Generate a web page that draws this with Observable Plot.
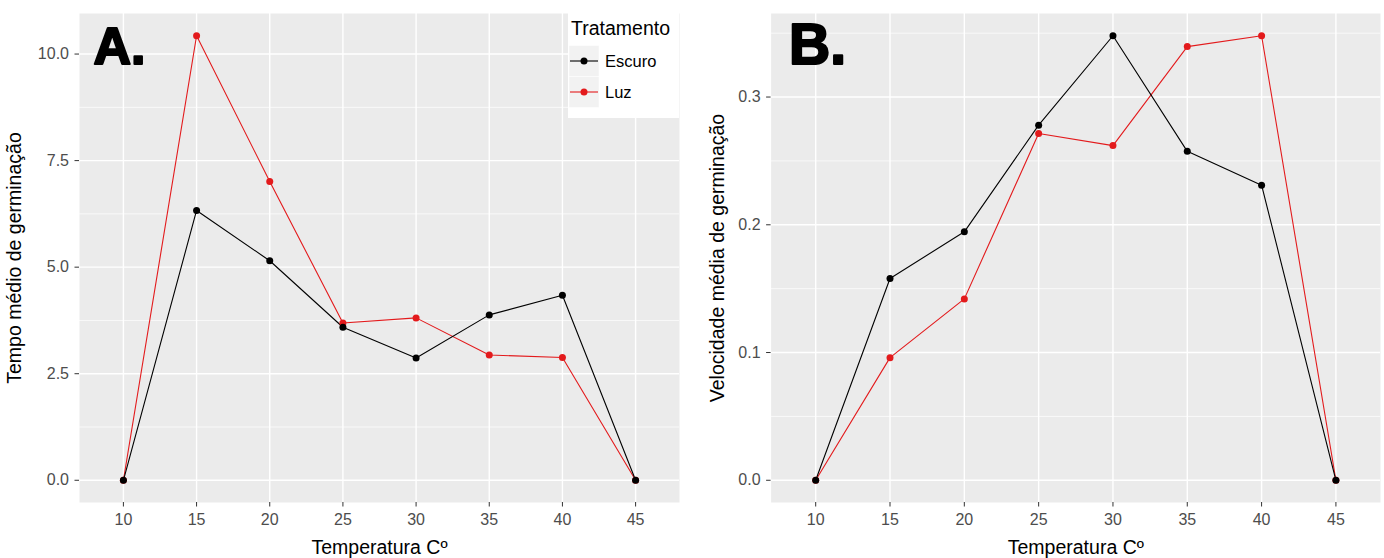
<!DOCTYPE html>
<html>
<head>
<meta charset="utf-8">
<script src="https://cdn.jsdelivr.net/npm/d3@7"></script>
<script src="https://cdn.jsdelivr.net/npm/@observablehq/plot@0.6"></script>
<style>
  html, body { margin: 0; padding: 0; background: #fff; }
  #wrap { position: relative; width: 1384px; height: 558px; font-family: "Liberation Sans", Arial, sans-serif; }
  #chartA { position: absolute; left: 0; top: 0; }
  #chartB { position: absolute; left: 690px; top: 0; }
  #legend { position: absolute; left: 568px; top: 13px; }
  #wrap g[aria-label$="tick label"], #wrap g[aria-label$="tick label"] text { fill: #4D4D4D; font-size: 16px; }
  #wrap g[aria-label$="axis tick"] { stroke: #333333; }
  #wrap g[aria-label$="axis label"], #wrap g[aria-label$="axis label"] text { fill: #000; font-size: 19.5px; }
</style>
</head>
<body>
<div id="wrap">
  <div id="chartA"></div>
  <div id="chartB"></div>
  <div id="legend"></div>
</div>
<script>
// ---- data ----
const temps = [10, 15, 20, 25, 30, 35, 40, 45];
const tratamentos = ["Escuro", "Luz"];
const cores = ["#000000", "#E31A1C"];

// Panel A: Tempo médio de germinação
const tempoEscuro = [0, 6.33, 5.15, 3.59, 2.87, 3.88, 4.34, 0];
const tempoLuz    = [0, 10.43, 7.01, 3.69, 3.81, 2.94, 2.88, 0];
// Panel B: Velocidade média de germinação
const velEscuro = [0, 0.158, 0.1945, 0.278, 0.348, 0.2575, 0.231, 0];
const velLuz    = [0, 0.096, 0.142, 0.2715, 0.262, 0.3395, 0.348, 0];

const yTicksA = [0, 2.5, 5, 7.5, 10];
const yMinorA = [1.25, 3.75, 6.25, 8.75];
const yTicksB = [0, 0.1, 0.2, 0.3];
const yMinorB = [0.05, 0.15, 0.25, 0.35];

const tituloX = "Temperatura Cº";
const tituloYA = "Tempo médio de germinação";
const tituloYB = "Velocidade média de germinação";
const tituloLegenda = "Tratamento";

function rowsOf(escuro, luz) {
  const rows = [];
  temps.forEach((t, i) => rows.push({temp: t, valor: luz[i], trat: "Luz"}));
  temps.forEach((t, i) => rows.push({temp: t, valor: escuro[i], trat: "Escuro"}));
  return rows;
}

function panel({rows, yTicks, yMinor, yLabel, yLabelOffset, tag, width, marginLeft, marginRight, tagDx, tagDy, tagSize}) {
  const max = d3.max(rows, d => d.valor);
  const pad = 0.05 * max;
  // discrete-style x: 0.6 of a category step (5 units) on each side
  const xPad = 0.6 * 5;
  return Plot.plot({
    width, height: 558,
    marginLeft, marginRight, marginTop: 13, marginBottom: 56,
    style: {fontFamily: "Liberation Sans, Arial, sans-serif", background: "transparent", overflow: "visible"},
    x: {domain: [d3.min(temps) - xPad, d3.max(temps) + xPad]},
    y: {domain: [-pad, max + pad]},
    color: {domain: tratamentos, range: cores},
    marks: [
      Plot.frame({fill: "#EBEBEB", stroke: "none"}),
      Plot.ruleY(yMinor, {stroke: "#fff", strokeWidth: 0.7}),
      Plot.ruleY(yTicks, {stroke: "#fff", strokeWidth: 1.4}),
      Plot.ruleX(temps, {stroke: "#fff", strokeWidth: 1.4}),
      Plot.axisX({ticks: temps, tickSize: 4.5, tickPadding: 7, tickFormat: d3.format("d"), label: tituloX, labelAnchor: "center", labelOffset: 51, labelArrow: "none"}),
      Plot.axisY({ticks: yTicks, tickSize: 4.5, tickPadding: 6, tickFormat: d3.format(".1f"), label: yLabel, labelAnchor: "center", labelOffset: yLabelOffset, labelArrow: "none"}),
      Plot.line(rows, {x: "temp", y: "valor", z: "trat", stroke: "trat", strokeWidth: 1.1}),
      Plot.dot(rows, {x: "temp", y: "valor", fill: "trat", r: 3.5}),
      Plot.text([tag], {frameAnchor: "top-left", dx: tagDx, dy: tagDy, lineAnchor: "top", textAnchor: "start",
        fontSize: tagSize, fontWeight: "bold", fill: "#000", stroke: "#000", strokeWidth: 2.2, fontFamily: "Liberation Sans, Arial, sans-serif"})
    ]
  });
}

document.getElementById("chartA").appendChild(panel({
  rows: rowsOf(tempoEscuro, tempoLuz), yTicks: yTicksA, yMinor: yMinorA, yLabel: tituloYA, yLabelOffset: 72, tag: "A.",
  width: 690, marginLeft: 79, marginRight: 11, tagDx: 14, tagDy: 14, tagSize: 52
}));
document.getElementById("chartB").appendChild(panel({
  rows: rowsOf(velEscuro, velLuz), yTicks: yTicksB, yMinor: yMinorB, yLabel: tituloYB, yLabelOffset: 61, tag: "B.",
  width: 694, marginLeft: 80.6, marginRight: 4, tagDx: 18, tagDy: 10, tagSize: 57
}));

// ---- legend ----
const ns = "http://www.w3.org/2000/svg";
const lg = d3.select("#legend").append("svg").attr("xmlns", ns).attr("width", 111).attr("height", 105)
  .style("display", "block").style("font-family", "Liberation Sans, Arial, sans-serif");
lg.append("rect").attr("width", 111).attr("height", 105).attr("fill", "#fff");
lg.append("text").attr("x", 3).attr("y", 22).attr("font-size", 19.5).attr("fill", "#000").text(tituloLegenda);
tratamentos.forEach((t, i) => {
  const cy = 48 + i * 31;
  lg.append("rect").attr("x", 1).attr("y", cy - 15.5).attr("width", 30).attr("height", 31).attr("fill", "#F2F2F2").attr("stroke", "#fff").attr("stroke-width", 0.5);
  lg.append("line").attr("x1", 2).attr("x2", 30).attr("y1", cy).attr("y2", cy).attr("stroke", cores[i]).attr("stroke-width", 1.1);
  lg.append("circle").attr("cx", 16).attr("cy", cy).attr("r", 3.5).attr("fill", cores[i]);
  lg.append("text").attr("x", 37).attr("y", cy).attr("dy", "0.35em").attr("font-size", 16.5).attr("fill", "#000").text(t);
});
</script>
</body>
</html>
